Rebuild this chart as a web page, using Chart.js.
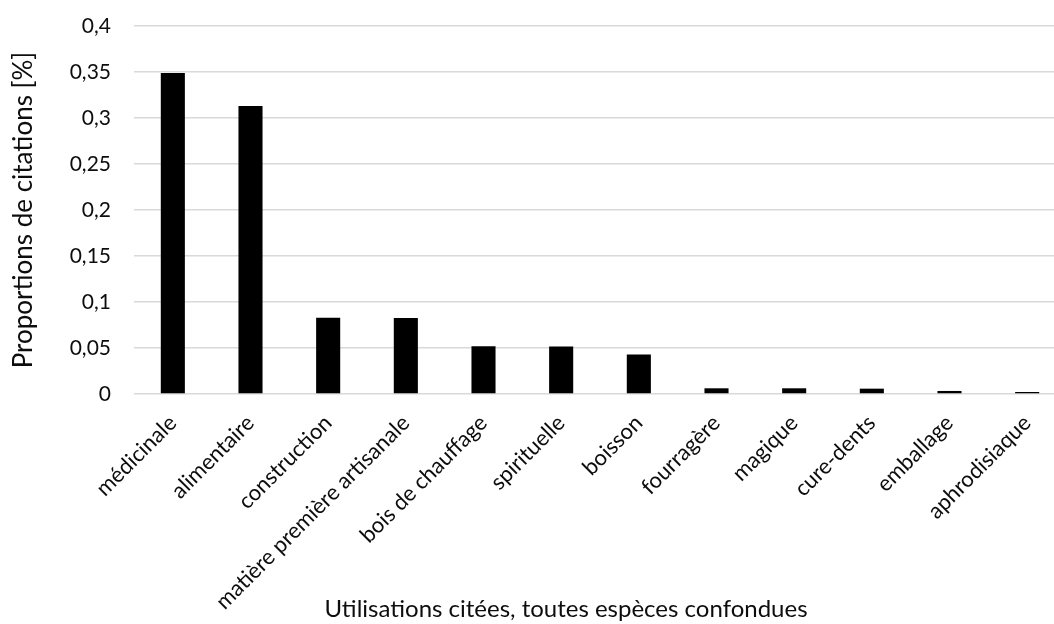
<!DOCTYPE html>
<html>
<head>
<meta charset="utf-8">
<script src="https://cdn.jsdelivr.net/npm/chart.js@4"></script>
<style>
  html, body { margin: 0; padding: 0; background: #fff; overflow: hidden; }
  #wrap { width: 1130px; height: 624px; position: relative; }
</style>
</head>
<body>
<div id="wrap"><canvas id="c"></canvas></div>
<script>
// Uses cited (all species combined) and their share of citations
const categories = [
  "médicinale", "alimentaire", "construction", "matière première artisanale",
  "bois de chauffage", "spirituelle", "boisson", "fourragère", "magique",
  "cure-dents", "emballage", "aphrodisiaque"
];
const proportions = [
  0.349, 0.313, 0.083, 0.0825, 0.052, 0.0515, 0.0428,
  0.0062, 0.0062, 0.0058, 0.0033, 0.0022
];
const yTicks = [0, 0.05, 0.1, 0.15, 0.2, 0.25, 0.3, 0.35, 0.4];
const yTitle = "Proportions de citations [%]";
const xTitle = "Utilisations citées, toutes espèces confondues";

const FONT = "Lato, 'Open Sans', 'DejaVu Sans', sans-serif";
const TEXT = "#0d0d0d";

// Horizontal axis title, centred under the whole figure
const xTitlePlugin = {
  id: "xTitle",
  afterDraw(chart) {
    const ctx = chart.ctx;
    ctx.save();
    ctx.font = "24px " + FONT;
    ctx.fillStyle = TEXT;
    ctx.textAlign = "center";
    ctx.textBaseline = "alphabetic";
    ctx.fillText(xTitle, 566, 617);
    ctx.restore();
  }
};

new Chart(document.getElementById("c"), {
  type: "bar",
  data: {
    labels: categories,
    datasets: [{
      data: proportions,
      backgroundColor: "#000000",
      borderWidth: 0,
      categoryPercentage: 1,
      barPercentage: 0.31
    }]
  },
  options: {
    responsive: true,
    maintainAspectRatio: false,
    animation: false,
    layout: { padding: { top: 26, left: 0, right: 64, bottom: 0 } },
    plugins: {
      legend: { display: false },
      tooltip: { enabled: false },
      title: { display: false }
    },
    scales: {
      x: {
        grid: { display: false, drawTicks: false },
        border: { display: false },
        ticks: {
          color: TEXT,
          font: { family: FONT, size: 22 },
          minRotation: 45,
          maxRotation: 45,
          autoSkip: false,
          padding: 16
        },
        afterFit: (s) => { s.height = 230; s.paddingLeft = 0; s.paddingRight = 0; }
      },
      y: {
        min: 0,
        max: 0.4,
        afterBuildTicks: (s) => { s.ticks = yTicks.map(v => ({ value: v })); },
        grid: { color: "#d9d9d9", lineWidth: 1.5, drawTicks: false },
        border: { display: false },
        ticks: {
          color: TEXT,
          font: { family: FONT, size: 21 },
          padding: 23,
          callback: (v) => String(Math.round(v * 100) / 100).replace(".", ",")
        },
        title: {
          display: true,
          text: yTitle,
          color: TEXT,
          font: { family: FONT, size: 26, weight: "normal" },
          padding: { top: 8, bottom: 0 }
        },
        afterFit: (s) => { s.width = 134; s.paddingTop = 0; s.paddingBottom = 0; }
      }
    }
  },
  plugins: [xTitlePlugin]
});
</script>
</body>
</html>
